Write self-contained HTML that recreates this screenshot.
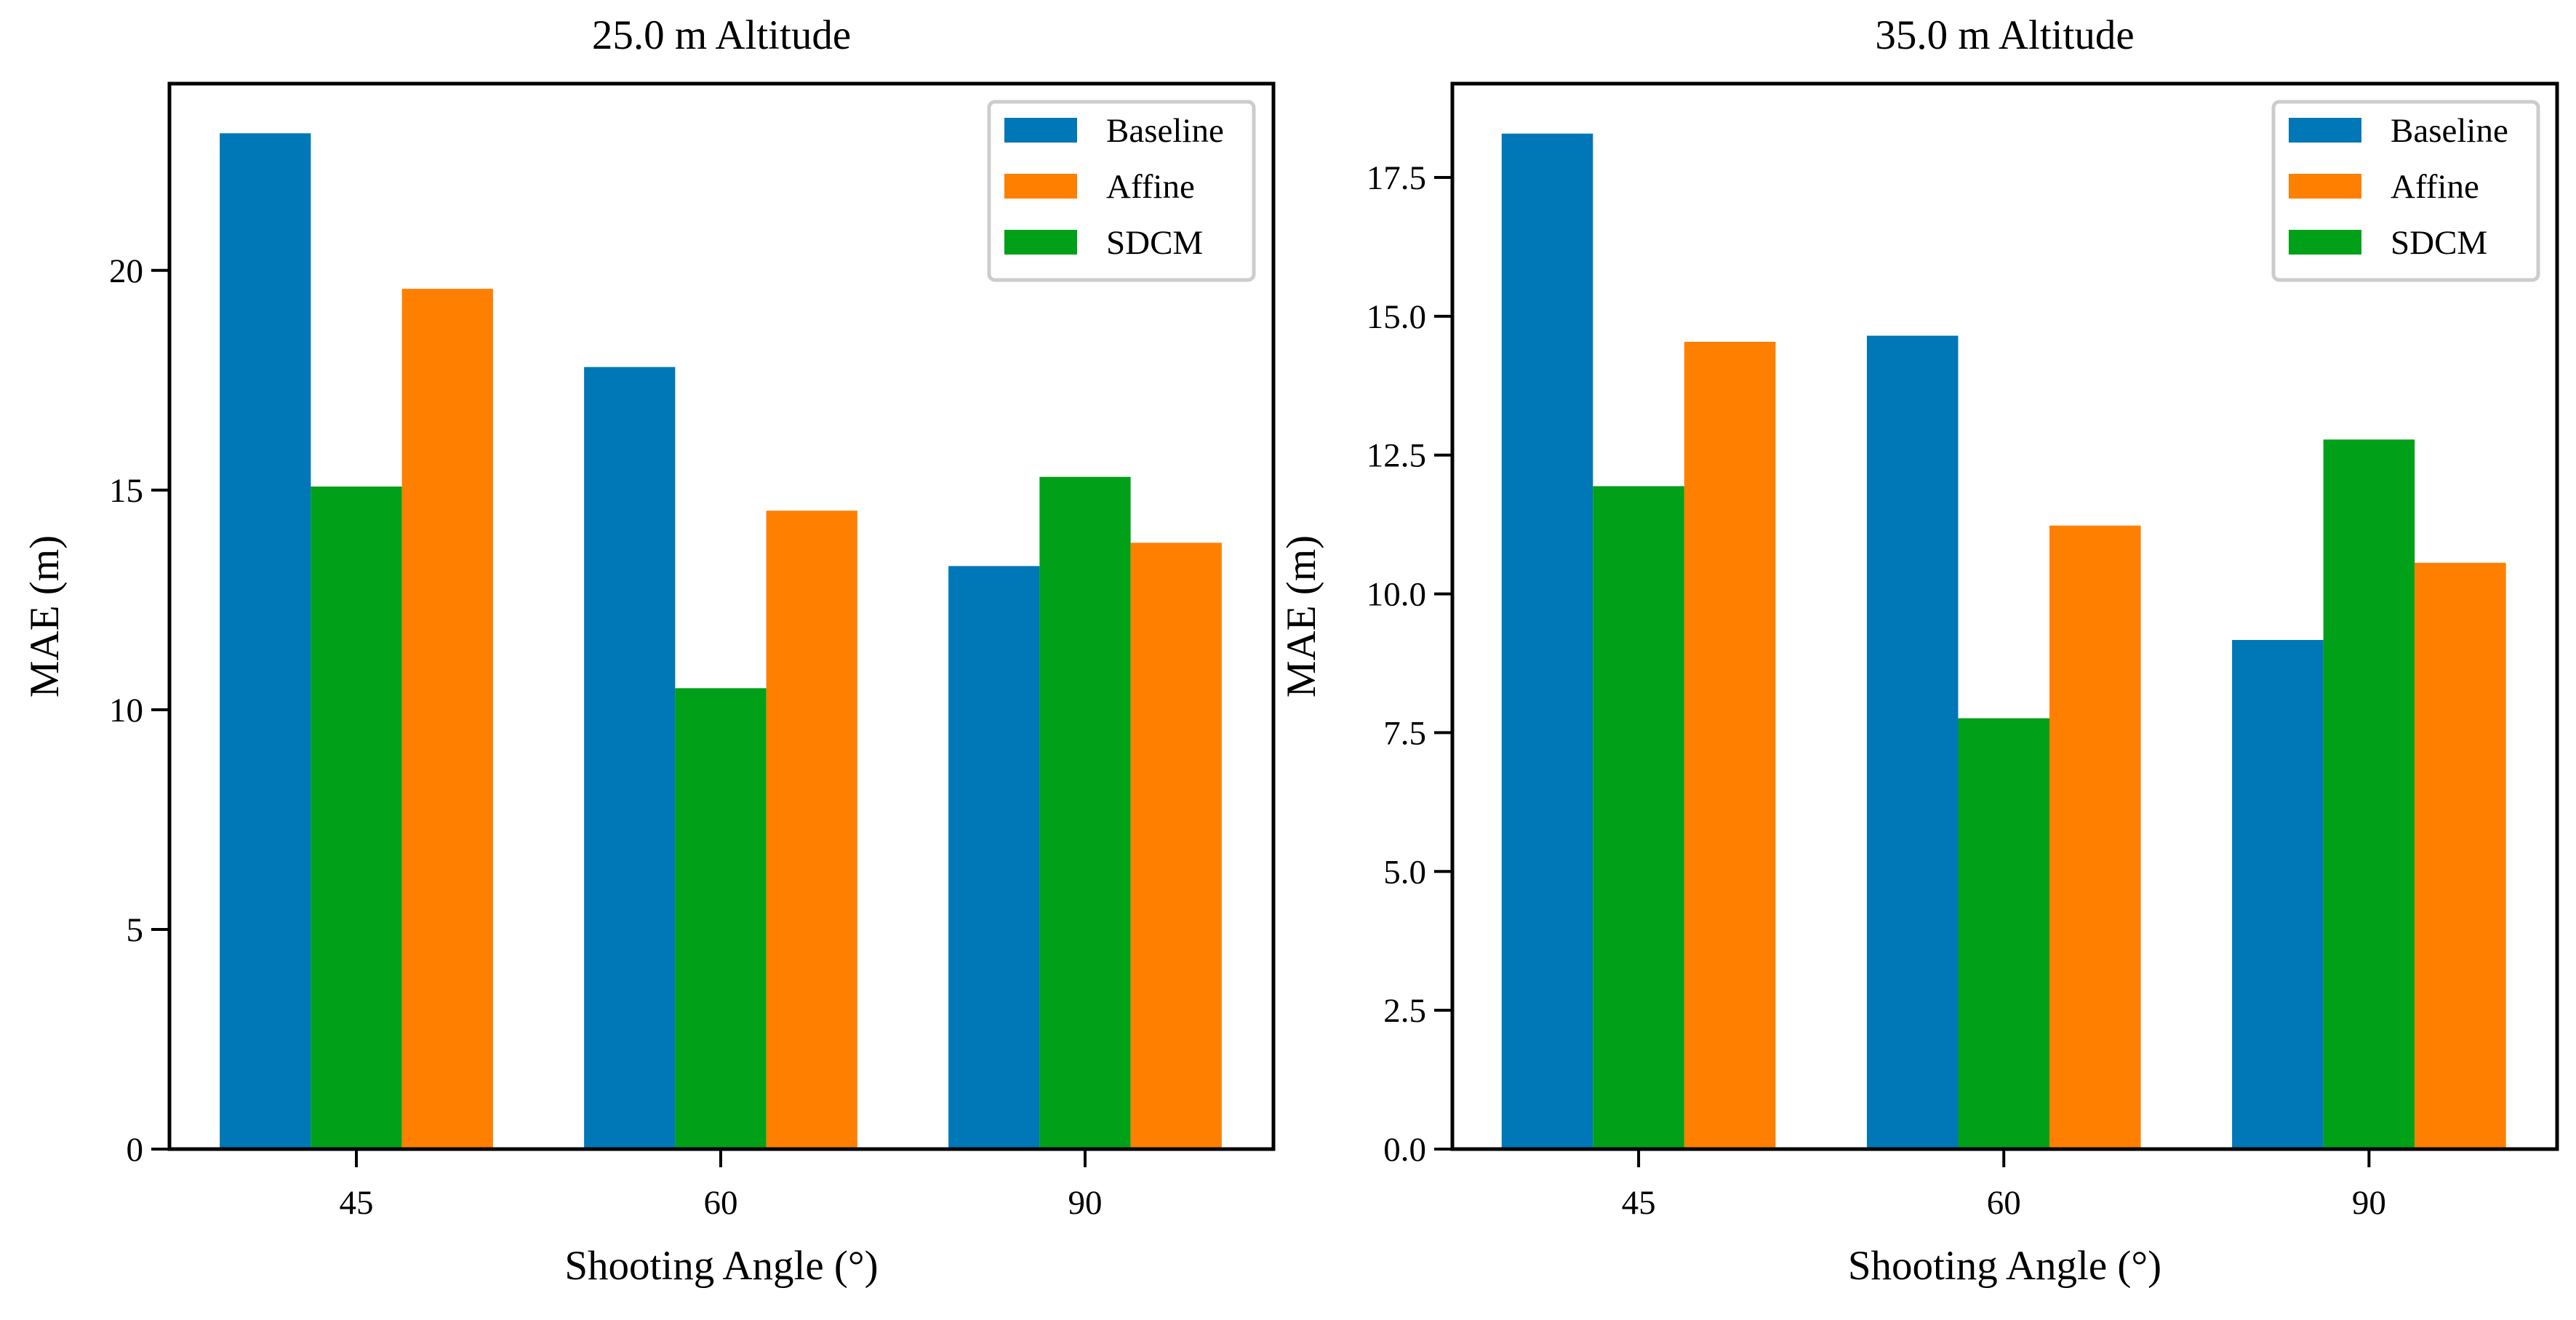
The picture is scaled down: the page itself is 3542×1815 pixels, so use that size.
<!DOCTYPE html>
<html><head><meta charset="utf-8"><style>
body{margin:0;background:#fff}
svg{display:block;font-family:"Liberation Serif",serif}
</style></head><body>
<svg id="chart" width="3542" height="1815" viewBox="0 0 3542 1815" xmlns="http://www.w3.org/2000/svg"></svg>
<script>
const categories = ["45","60","90"];
const seriesNames = ["Baseline","SDCM","Affine"];
const legendOrder = ["Baseline","Affine","SDCM"];
const baseline25 = [23.12, 17.8, 13.27];
const sdcm25 = [15.08, 10.49, 15.3];
const affine25 = [19.58, 14.53, 13.8];
const baseline35 = [18.29, 14.65, 9.17];
const sdcm35 = [11.94, 7.76, 12.78];
const affine35 = [14.54, 11.23, 10.56];
const ticks25 = [0,5,10,15,20];
const tickLabels25 = ["0","5","10","15","20"];
const ticks35 = [0,2.5,5,7.5,10,12.5,15,17.5];
const tickLabels35 = ["0.0","2.5","5.0","7.5","10.0","12.5","15.0","17.5"];
const titles = ["25.0 m Altitude","35.0 m Altitude"];

const colors = {Baseline:"#0077b6", Affine:"#ff7f00", SDCM:"#00a018"};
const NS = "http://www.w3.org/2000/svg";
const svg = document.getElementById("chart");
function mk(tag, attrs, parent){const e=document.createElementNS(NS,tag);for(const k in attrs)e.setAttribute(k,attrs[k]);(parent||svg).appendChild(e);return e;}

function panel(p){
  const g = mk("g",{});
  
  
  const x = v => p.left + (v - p.xmin)/(p.xmax - p.xmin)*(p.right - p.left);
  const y = v => p.bottom - v/p.ymax*(p.bottom - p.top);
  const series = {Baseline:p.b, SDCM:p.s, Affine:p.a};
  seriesNames.forEach((sn, si) => {
    categories.forEach((c, ci) => {
      const x0 = x(ci + (si-1)*0.25 - 0.125), x1 = x(ci + (si-1)*0.25 + 0.125);
      const r = mk("rect",{x:x0,y:y(series[sn][ci]),width:x1-x0,height:y(0)-y(series[sn][ci]),fill:colors[sn]},g);
      
      
    });
  });
  p.ticks.forEach((t,i) => {
    const ty = y(t);
    mk("line",{x1:p.left-25,x2:p.left,y1:ty,y2:ty,stroke:"#000","stroke-width":4},g);
    const tx = mk("text",{x:p.left-36,y:ty+16,"text-anchor":"end","font-size":47},g);
    tx.textContent = p.tickLabels[i];
    
    
  });
  categories.forEach((c, ci) => {
    const tx0 = x(ci);
    mk("line",{x1:tx0,x2:tx0,y1:p.bottom,y2:p.bottom+25,stroke:"#000","stroke-width":4},g);
    const tx = mk("text",{x:tx0,y:1669,"text-anchor":"middle","font-size":47},g);
    tx.textContent = c;
    
    
  });
  const fr = mk("rect",{x:p.left,y:p.top,width:p.right-p.left,height:p.bottom-p.top,fill:"none",stroke:"#000","stroke-width":5},g);
  
  
  const tt = mk("text",{x:(p.left+p.right)/2,y:67,"text-anchor":"middle","font-size":57},g);
  tt.textContent = p.title;
  
  
  const xl = mk("text",{x:(p.left+p.right)/2,y:1759,"text-anchor":"middle","font-size":57},g);
  xl.textContent = "Shooting Angle (°)";
  
  
  const yl = mk("text",{x:0,y:0,"text-anchor":"middle","font-size":57,transform:`translate(${p.ylx},${(p.top+p.bottom)/2}) rotate(-90)`},g);
  yl.textContent = "MAE (m)";
  
  
  const lg = mk("g",{},g);
  
  
  mk("rect",{x:p.lgx,y:140,width:364,height:245,rx:8,fill:"#fff",stroke:"#ccc","stroke-width":5},lg);
  legendOrder.forEach((sn,i) => {
    const cy = 179 + i*77;
    mk("rect",{x:p.lgx+21,y:cy-17,width:100,height:34,fill:colors[sn]},lg);
    const t = mk("text",{x:p.lgx+161,y:cy+16,"font-size":47},lg);
    t.textContent = sn;
    
    
  });
}
panel({name:"panel-25m",left:233,right:1751,top:115,bottom:1580,xmin:-0.513,xmax:2.517,ymax:24.25,
  b:baseline25,s:sdcm25,a:affine25,ticks:ticks25,tickLabels:tickLabels25,title:titles[0],ylx:80,lgx:1360});
panel({name:"panel-35m",left:1997,right:3516,top:115,bottom:1580,xmin:-0.51,xmax:2.515,ymax:19.19,
  b:baseline35,s:sdcm35,a:affine35,ticks:ticks35,tickLabels:tickLabels35,title:titles[1],ylx:1808,lgx:3126});
</script>
</body></html>
